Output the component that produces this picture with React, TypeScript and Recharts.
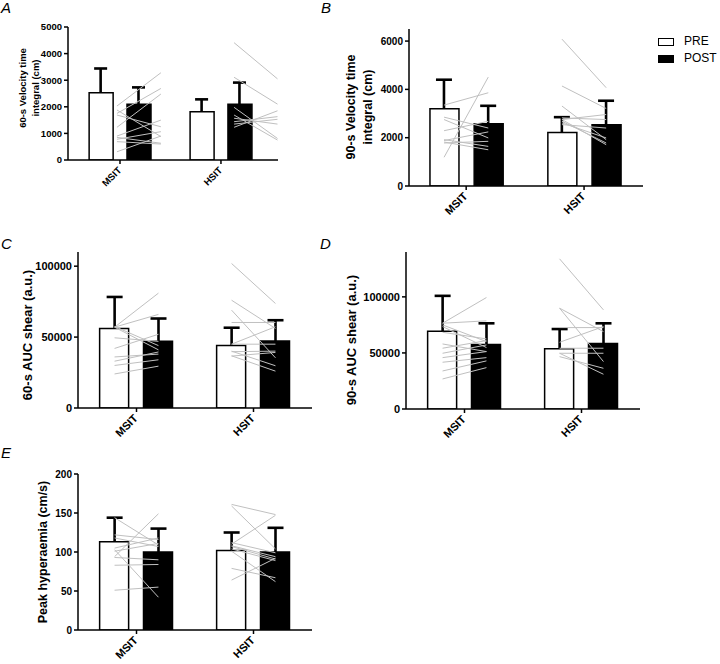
import { ComposedChart, Bar, Cell, Scatter, XAxis, YAxis } from "recharts";

const FONT = 'Arial, "Liberation Sans", Helvetica, sans-serif';
const LINE = "#c0c0c0";

const groups = ["MSIT", "HSIT"];
const CAT_X = [1, 3];
const BAR_OFF = 0.375;

// A: 60-s velocity time integral (cm)
const aPreMean = [2530, 1810];
const aPreSd = [910, 470];
const aPostMean = [2100, 2100];
const aPostSd = [630, 810];
const aMsitPre = [2030, 1750, 1230, 1690, 1880, 900, 850, 780, 690, 310];
const aMsitPost = [3280, 2690, 2480, 1250, 880, 1500, 630, 1065, 600, 900];
const aHsitPre = [4410, 3110, 1980, 1690, 1230, 1440, 1350, 1570];
const aHsitPost = [3050, 2100, 810, 750, 1850, 1630, 1530, 1350];

// B: 90-s velocity time integral (cm)
const bPreMean = [3200, 2220];
const bPreSd = [1200, 630];
const bPostMean = [2580, 2540];
const bPostSd = [740, 990];
const bMsitPre = [1190, 3350, 2850, 2750, 2290, 1880, 1820, 1920, 1780];
const bMsitPost = [4510, 3860, 2400, 1990, 2680, 2240, 1500, 1640, 1850];
const bHsitPre = [6080, 4140, 3310, 2820, 2750, 2680, 2610, 2540, 2750];
const bHsitPost = [4070, 3210, 1920, 2750, 2960, 1780, 1990, 2400, 1710];

// C: 60-s AUC shear (a.u.)
const cPreMean = [56000, 44000];
const cPreSd = [22300, 12600];
const cPostMean = [47000, 47200];
const cPostSd = [16100, 14700];
const cMsitPre = [57000, 57000, 57500, 57000, 49500, 42000, 36000, 33000, 30000, 24000];
const cMsitPost = [81000, 66000, 44000, 41000, 47000, 52000, 38000, 39500, 34000, 29500];
const cHsitPre = [101900, 76000, 69000, 60300, 45000, 45000, 39700, 40100, 36800, 36600];
const cHsitPost = [73700, 56100, 35400, 60300, 57300, 45000, 40100, 29800, 26000, 39200];

// D: 90-s AUC shear (a.u.)
const dPreMean = [69300, 53700];
const dPreSd = [31600, 17600];
const dPostMean = [57600, 58500];
const dPostSd = [18800, 17900];
const dMsitPre = [76500, 76500, 75000, 73500, 68400, 58000, 54200, 49700, 45800, 41700, 33900, 26800];
const dMsitPost = [99400, 78600, 60100, 54800, 62500, 51200, 61000, 57100, 51200, 45800, 42900, 36900];
const dHsitPre = [133900, 89900, 89900, 72600, 59500, 54200, 49700, 46700, 49700];
const dHsitPost = [88400, 42300, 69000, 72600, 73500, 54200, 49700, 36300, 31000];

// E: peak hyperaemia (cm/s)
const ePreMean = [113, 102];
const ePreSd = [31, 23];
const ePostMean = [100, 100];
const ePostSd = [30, 31];
const eMsitPre = [144, 94, 122, 118, 105, 101, 103, 93, 83, 51];
const eMsitPost = [109, 149, 116, 107, 118, 111, 42, 90, 84, 55];
const eHsitPre = [161, 159, 110, 108, 107, 104, 101, 79, 64, 112];
const eHsitPost = [148, 104, 147, 94, 91, 89, 62, 67, 92, 99];

interface PanelDef {
  letter: string;
  letterPos: [number, number];
  left: number;
  top: number;
  width: number;
  height: number;
  marginTop: number;
  marginRight: number;
  yWidth: number;
  xHeight: number;
  xDomain: [number, number];
  yDomain: [number, number];
  yTicks: number[];
  label: string[];
  labelX: number[];
  labelY: number;
  labelSize: number;
  tickFont: number;
  catFont: number;
  barSize: number;
  capWidth: number;
  lineSpan: [number, number][];
  preMean: number[];
  preSd: number[];
  postMean: number[];
  postSd: number[];
  pre: number[][];
  post: number[][];
}

const panels: PanelDef[] = [
  {
    letter: "A", letterPos: [1, 0],
    left: 0, top: 0, width: 300, height: 215, marginTop: 27, marginRight: 22, yWidth: 68, xHeight: 55,
    xDomain: [-0.03, 4.13], yDomain: [0, 5000], yTicks: [0, 1000, 2000, 3000, 4000, 5000],
    label: ["60-s Velocity time", "integral (cm)"], labelX: [22, 35], labelY: 88, labelSize: 9.5,
    tickFont: 9.5, catFont: 9.5, barSize: 24, capWidth: 13,
    lineSpan: [[-0.06, 0.81], [0.26, 1.12]],
    preMean: aPreMean, preSd: aPreSd, postMean: aPostMean, postSd: aPostSd,
    pre: [aMsitPre, aHsitPre], post: [aMsitPost, aHsitPost],
  },
  {
    letter: "B", letterPos: [321, 0],
    left: 330, top: 0, width: 330, height: 240, marginTop: 29, marginRight: 17, yWidth: 79, xHeight: 54,
    xDomain: [0.03, 4.0], yDomain: [0, 6500], yTicks: [0, 2000, 4000, 6000],
    label: ["90-s Velocity time", "integral (cm)"], labelX: [21, 38], labelY: 107, labelSize: 12.5,
    tickFont: 10, catFont: 11, barSize: 29, capWidth: 16,
    lineSpan: [[-0.375, 0.375], [-0.375, 0.375]],
    preMean: bPreMean, preSd: bPreSd, postMean: bPostMean, postSd: bPostSd,
    pre: [bMsitPre, bHsitPre], post: [bMsitPost, bHsitPost],
  },
  {
    letter: "C", letterPos: [1, 236],
    left: 0, top: 230, width: 330, height: 235, marginTop: 22, marginRight: 18, yWidth: 78, xHeight: 57,
    xDomain: [0, 4], yDomain: [0, 110000], yTicks: [0, 50000, 100000],
    label: ["60-s AUC shear (a.u.)"], labelX: [27], labelY: 105, labelSize: 13,
    tickFont: 11, catFont: 11, barSize: 29, capWidth: 16,
    lineSpan: [[-0.375, 0.375], [-0.375, 0.375]],
    preMean: cPreMean, preSd: cPreSd, postMean: cPostMean, postSd: cPostSd,
    pre: [cMsitPre, cHsitPre], post: [cMsitPost, cHsitPost],
  },
  {
    letter: "D", letterPos: [320, 236],
    left: 330, top: 230, width: 330, height: 235, marginTop: 22, marginRight: 20, yWidth: 76, xHeight: 56,
    xDomain: [0, 4], yDomain: [0, 140000], yTicks: [0, 50000, 100000],
    label: ["90-s AUC shear (a.u.)"], labelX: [21], labelY: 110, labelSize: 13,
    tickFont: 11, catFont: 11, barSize: 29, capWidth: 16,
    lineSpan: [[-0.375, 0.375], [-0.375, 0.375]],
    preMean: dPreMean, preSd: dPreSd, postMean: dPostMean, postSd: dPostSd,
    pre: [dMsitPre, dHsitPre], post: [dMsitPost, dHsitPost],
  },
  {
    letter: "E", letterPos: [1, 445],
    left: 0, top: 455, width: 330, height: 209, marginTop: 19, marginRight: 18, yWidth: 78, xHeight: 34,
    xDomain: [0, 4], yDomain: [0, 200], yTicks: [0, 50, 100, 150, 200],
    label: ["Peak hyperaemia (cm/s)"], labelX: [42.5], labelY: 97, labelSize: 12.5,
    tickFont: 10, catFont: 11, barSize: 29, capWidth: 16,
    lineSpan: [[-0.375, 0.375], [-0.375, 0.375]],
    preMean: ePreMean, preSd: ePreSd, postMean: ePostMean, postSd: ePostSd,
    pre: [eMsitPre, eHsitPre], post: [eMsitPost, eHsitPost],
  },
];

function CatTick(props: any) {
  const { x, y, payload, fontSize } = props;
  const name = groups[CAT_X.indexOf(payload.value)];
  return (
    <text
      transform={`translate(${x + 2},${y + 5}) rotate(-45)`}
      textAnchor="end"
      fontSize={fontSize}
      fontWeight={700}
      fontFamily={FONT}
      fill="#000"
    >
      {name}
    </text>
  );
}

// one-sided (upper) error bar drawn from a floating range bar [mean, mean + sd]
function ErrShape(props: any) {
  const { x, y, width, height } = props;
  const top = Math.min(y, y + height);
  const bottom = Math.max(y, y + height);
  const mid = x + width / 2;
  return (
    <g stroke="#000" strokeWidth={2.6}>
      <line x1={mid} x2={mid} y1={top} y2={bottom} />
      <line x1={x} x2={x + width} y1={top} y2={top} />
    </g>
  );
}

const Empty = () => <g />;

function Panel({ p }: { p: PanelDef }) {
  const bars = groups.flatMap((_, gi) => [
    {
      x: CAT_X[gi] - BAR_OFF,
      value: p.preMean[gi],
      range: [p.preMean[gi], p.preMean[gi] + p.preSd[gi]],
      fill: "#ffffff",
    },
    {
      x: CAT_X[gi] + BAR_OFF,
      value: p.postMean[gi],
      range: [p.postMean[gi], p.postMean[gi] + p.postSd[gi]],
      fill: "#000000",
    },
  ]);

  // one pre->post segment per participant
  const segments = groups.flatMap((_, gi) =>
    p.pre[gi].map((v, i) => [
      { x: CAT_X[gi] + p.lineSpan[gi][0], value: v },
      { x: CAT_X[gi] + p.lineSpan[gi][1], value: p.post[gi][i] },
    ])
  );

  const axisStyle = { stroke: "#000", strokeWidth: 1.5 };

  const renderLabel = () => (
    <g>
      {p.label.map((line, i) => (
        <text
          key={line}
          x={p.labelX[i]}
          y={p.labelY}
          transform={`rotate(-90 ${p.labelX[i]} ${p.labelY})`}
          textAnchor="middle"
          dominantBaseline="central"
          fontSize={p.labelSize}
          fontWeight={700}
          fontFamily={FONT}
          fill="#000"
        >
          {line}
        </text>
      ))}
    </g>
  );

  return (
    <div style={{ position: "absolute", left: p.left, top: p.top }}>
      <ComposedChart
        width={p.width}
        height={p.height}
        data={bars}
        margin={{ top: p.marginTop, right: p.marginRight, left: 0, bottom: 0 }}
      >
        <XAxis
          type="number"
          dataKey="x"
          domain={p.xDomain}
          allowDataOverflow
          ticks={CAT_X}
          interval={0}
          height={p.xHeight}
          tickSize={4}
          tickLine={axisStyle}
          axisLine={axisStyle}
          tick={<CatTick fontSize={p.catFont} />}
        />
        <XAxis xAxisId="err" type="number" dataKey="x" domain={p.xDomain} allowDataOverflow hide />
        <XAxis xAxisId="seg" type="number" dataKey="x" domain={p.xDomain} allowDataOverflow hide />
        <YAxis
          type="number"
          domain={p.yDomain}
          allowDataOverflow
          ticks={p.yTicks}
          interval={0}
          width={p.yWidth}
          tickSize={4}
          tickLine={axisStyle}
          axisLine={axisStyle}
          tick={{ fontSize: p.tickFont, fontWeight: 700, fill: "#000", fontFamily: FONT }}
          label={{ content: renderLabel }}
        />
        <Bar xAxisId="err" dataKey="range" barSize={p.capWidth} shape={ErrShape} isAnimationActive={false} />
        <Bar dataKey="value" barSize={p.barSize} stroke="#000" strokeWidth={1.5} isAnimationActive={false}>
          {bars.map((b, i) => (
            <Cell key={i} fill={b.fill} />
          ))}
        </Bar>
        {segments.map((seg, i) => (
          <Scatter
            key={i}
            xAxisId="seg"
            data={seg}
            dataKey="value"
            line={{ stroke: LINE, strokeWidth: 1 }}
            shape={Empty}
            legendType="none"
            isAnimationActive={false}
          />
        ))}
      </ComposedChart>
    </div>
  );
}

function LegendBox() {
  const items = [
    { name: "PRE", fill: "#ffffff", top: 37 },
    { name: "POST", fill: "#000000", top: 54 },
  ];
  return (
    <>
      {items.map((it) => (
        <div key={it.name} style={{ position: "absolute", left: 658, top: it.top, display: "flex", alignItems: "center" }}>
          <div style={{ width: 14, height: 6, background: it.fill, border: "1.5px solid #000" }} />
          <span style={{ marginLeft: 10, fontSize: 12, fontFamily: FONT, lineHeight: "9px", color: "#000" }}>{it.name}</span>
        </div>
      ))}
    </>
  );
}

export default function App() {
  return (
    <div style={{ position: "absolute", left: 0, top: 0, width: 720, height: 664, background: "#fff", overflow: "hidden" }}>
      {panels.map((p) => (
        <Panel key={p.letter} p={p} />
      ))}
      {panels.map((p) => (
        <div
          key={"l" + p.letter}
          style={{
            position: "absolute",
            left: p.letterPos[0],
            top: p.letterPos[1],
            fontSize: 15,
            lineHeight: "15px",
            fontStyle: "italic",
            fontFamily: FONT,
            color: "#000",
          }}
        >
          {p.letter}
        </div>
      ))}
      <LegendBox />
    </div>
  );
}
